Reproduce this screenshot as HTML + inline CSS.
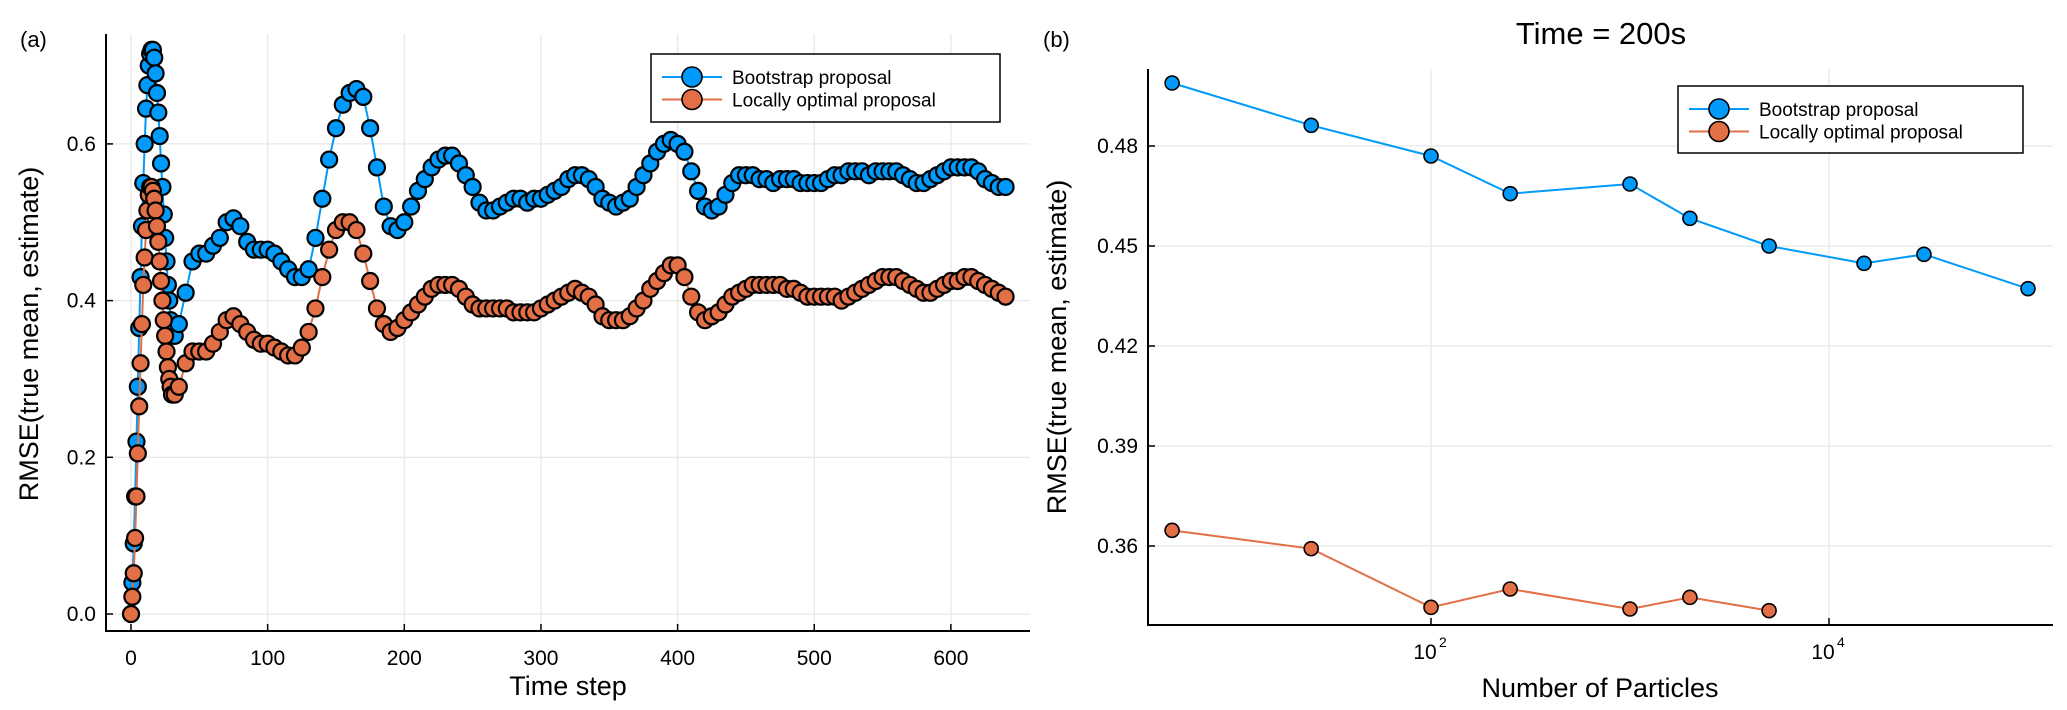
<!DOCTYPE html>
<html><head><meta charset="utf-8"><style>
html,body{margin:0;padding:0;background:#fff;}
svg{display:block;font-family:"Liberation Sans",sans-serif;}
</style></head><body>
<svg id="fig" width="2067" height="710" viewBox="0 0 2067 710" xmlns="http://www.w3.org/2000/svg">
<rect width="2067" height="710" fill="#fff"/>
<g id="pa"></g>
<g id="pb"></g>
</svg>
<script>
// ---------- Panel (a) data ----------
const timeSteps = [0,1,2,3,4,5,6,7,8,9,10,11,12,13,14,15,16,17,18,19,20,21,22,23,24,25,26,27,28,29,30,32,35,40,45,50,55,60,65,70,75,80,85,90,95,100,105,110,115,120,125,130,135,140,145,150,155,160,165,170,175,180,185,190,195,200,205,210,215,220,225,230,235,240,245,250,255,260,265,270,275,280,285,290,295,300,305,310,315,320,325,330,335,340,345,350,355,360,365,370,375,380,385,390,395,400,405,410,415,420,425,430,435,440,445,450,455,460,465,470,475,480,485,490,495,500,505,510,515,520,525,530,535,540,545,550,555,560,565,570,575,580,585,590,595,600,605,610,615,620,625,630,635,640];
const bootstrapA = [0.0,0.04,0.09,0.15,0.22,0.29,0.365,0.43,0.495,0.55,0.60,0.645,0.675,0.70,0.715,0.72,0.72,0.71,0.69,0.665,0.64,0.61,0.575,0.545,0.51,0.48,0.45,0.42,0.40,0.375,0.36,0.355,0.37,0.41,0.45,0.46,0.46,0.47,0.48,0.50,0.505,0.495,0.475,0.465,0.465,0.465,0.46,0.45,0.44,0.43,0.43,0.44,0.48,0.53,0.58,0.62,0.65,0.665,0.67,0.66,0.62,0.57,0.52,0.495,0.49,0.50,0.52,0.54,0.555,0.57,0.58,0.585,0.585,0.575,0.56,0.545,0.525,0.515,0.515,0.52,0.525,0.53,0.53,0.525,0.53,0.53,0.535,0.54,0.545,0.555,0.56,0.56,0.555,0.545,0.53,0.525,0.52,0.525,0.53,0.545,0.56,0.575,0.59,0.60,0.605,0.60,0.59,0.565,0.54,0.52,0.515,0.52,0.535,0.55,0.56,0.56,0.56,0.555,0.555,0.55,0.555,0.555,0.555,0.55,0.55,0.55,0.55,0.555,0.56,0.56,0.565,0.565,0.565,0.56,0.565,0.565,0.565,0.565,0.56,0.555,0.55,0.55,0.555,0.56,0.565,0.57,0.57,0.57,0.57,0.565,0.555,0.55,0.545,0.545];
const locallyA = [0.0,0.022,0.052,0.097,0.15,0.205,0.265,0.32,0.37,0.42,0.455,0.49,0.515,0.535,0.545,0.545,0.54,0.53,0.515,0.495,0.475,0.45,0.425,0.40,0.375,0.355,0.335,0.315,0.30,0.29,0.28,0.28,0.29,0.32,0.335,0.335,0.335,0.345,0.36,0.375,0.38,0.37,0.36,0.35,0.345,0.345,0.34,0.335,0.33,0.33,0.34,0.36,0.39,0.43,0.465,0.49,0.50,0.50,0.49,0.46,0.425,0.39,0.37,0.36,0.365,0.375,0.385,0.395,0.405,0.415,0.42,0.42,0.42,0.415,0.405,0.395,0.39,0.39,0.39,0.39,0.39,0.385,0.385,0.385,0.385,0.39,0.395,0.40,0.405,0.41,0.415,0.41,0.405,0.395,0.38,0.375,0.375,0.375,0.38,0.39,0.40,0.415,0.425,0.435,0.445,0.445,0.43,0.405,0.385,0.375,0.38,0.385,0.395,0.405,0.41,0.415,0.42,0.42,0.42,0.42,0.42,0.415,0.415,0.41,0.405,0.405,0.405,0.405,0.405,0.40,0.405,0.41,0.415,0.42,0.425,0.43,0.43,0.43,0.425,0.42,0.415,0.41,0.41,0.415,0.42,0.425,0.425,0.43,0.43,0.425,0.42,0.415,0.41,0.405];
const xTicksA = [0,100,200,300,400,500,600];
const yTicksA = [0.0,0.2,0.4,0.6];
const yTickLabelsA = ["0.0","0.2","0.4","0.6"];
// ---------- Panel (b) data ----------
const particles = [5,25,100,250,1000,2000,5000,15000,30000,100000];
const bootstrapB = [0.4989,0.4862,0.4770,0.4657,0.4686,0.4583,0.4500,0.4448,0.4475,0.4372];
const locallyB = [0.3647,0.3592,0.3416,0.3471,0.3411,0.3446,0.3406];
const yTicksB = [0.36,0.39,0.42,0.45,0.48];
const yTickLabelsB = ["0.36","0.39","0.42","0.45","0.48"];
const xTicksB = [100,10000];
const xTickExpB = ["2","4"];

const NS="http://www.w3.org/2000/svg";
function mk(parent,tag,attrs,text){const e=document.createElementNS(NS,tag);for(const k in attrs)e.setAttribute(k,attrs[k]);if(text!==undefined)e.textContent=text;parent.appendChild(e);return e;}
const BLUE="#009AFA", ORANGE="#E26F46";

// ---------- Panel (a) ----------
const pa=document.getElementById('pa');
const A={l:106,r:1030,t:34,b:631};
const xA=v=>131+(v-0)*1.3665;
const yA=v=>614-(v-0)*783.5;
xTicksA.forEach(v=>{const g=mk(pa,'line',{x1:xA(v),x2:xA(v),y1:A.t,y2:A.b,stroke:'#e8e8e8','stroke-width':1.3});

});
yTicksA.forEach(v=>{const g=mk(pa,'line',{x1:A.l,x2:A.r,y1:yA(v),y2:yA(v),stroke:'#e8e8e8','stroke-width':1.3});

});
const axA=mk(pa,'path',{d:`M${A.l},${A.t} V${A.b} H${A.r}`,fill:'none',stroke:'#000','stroke-width':2});


xTicksA.forEach(v=>{mk(pa,'line',{x1:xA(v),x2:xA(v),y1:A.b,y2:A.b-7,stroke:'#000','stroke-width':1.5});
const t=mk(pa,'text',{x:xA(v),y:A.b+34,'text-anchor':'middle','font-size':21},String(v));

});
yTicksA.forEach((v,i)=>{mk(pa,'line',{x1:A.l,x2:A.l+7,y1:yA(v),y2:yA(v),stroke:'#000','stroke-width':1.5});
const t=mk(pa,'text',{x:A.l-10,y:yA(v)+7,'text-anchor':'end','font-size':21},yTickLabelsA[i]);

});
function series(parent,xs,ys,xf,yf,color,r,sw,name){
  const pts=xs.slice(0,ys.length).map((x,i)=>xf(x)+','+yf(ys[i])).join(' ');
  const ln=mk(parent,'polyline',{points:pts,fill:'none',stroke:color,'stroke-width':2});
  
  
  ys.forEach((y,i)=>{const c=mk(parent,'circle',{cx:xf(xs[i]),cy:yf(y),r:r,fill:color,stroke:'#000','stroke-width':sw});
  
  });
}
series(pa,timeSteps,bootstrapA,xA,yA,BLUE,8,2.2,'bootstrap-a');
series(pa,timeSteps,locallyA,xA,yA,ORANGE,8,2.2,'locally-optimal-a');
function legend(parent,x,y,w,h,name){
  const g=mk(parent,'g',{});
  
  
  mk(g,'rect',{x:x,y:y,width:w,height:h,fill:'#fff',stroke:'#000','stroke-width':1.5});
  [[BLUE,'Bootstrap proposal'],[ORANGE,'Locally optimal proposal']].forEach((e,i)=>{
    const cy=y+23+i*22.5;
    mk(g,'line',{x1:x+11,x2:x+71,y1:cy,y2:cy,stroke:e[0],'stroke-width':2});
    mk(g,'circle',{cx:x+41,cy:cy,r:10,fill:e[0],stroke:'#000','stroke-width':1.6});
    const t=mk(g,'text',{x:x+81,y:cy+7,'font-size':19},e[1]);
    
    
  });
}
legend(pa,651,54,349,68,'legend-a');
const la=mk(pa,'text',{x:20,y:47,'font-size':22},'(a)');


const yla=mk(pa,'text',{x:0,y:0,'font-size':27,'text-anchor':'middle',transform:'translate(38,334) rotate(-90)'},'RMSE(true mean, estimate)');


const xla=mk(pa,'text',{x:568,y:695,'font-size':27,'text-anchor':'middle'},'Time step');



// ---------- Panel (b) ----------
const pb=document.getElementById('pb');
const B={l:1148,r:2053,t:69,b:625};
const xB=v=>1431+(Math.log10(v)-2)*199;
const yB=v=>546-(v-0.36)*(100/0.03);
xTicksB.forEach(v=>{const g=mk(pb,'line',{x1:xB(v),x2:xB(v),y1:B.t,y2:B.b,stroke:'#e8e8e8','stroke-width':1.3});

});
yTicksB.forEach(v=>{const g=mk(pb,'line',{x1:B.l,x2:B.r,y1:yB(v),y2:yB(v),stroke:'#e8e8e8','stroke-width':1.3});

});
const axB=mk(pb,'path',{d:`M${B.l},${B.t} V${B.b} H${B.r}`,fill:'none',stroke:'#000','stroke-width':2});


xTicksB.forEach((v,i)=>{mk(pb,'line',{x1:xB(v),x2:xB(v),y1:B.b,y2:B.b-7,stroke:'#000','stroke-width':1.5});
const t=mk(pb,'text',{x:xB(v)-6,y:B.b+34,'text-anchor':'middle','font-size':21},'10');


mk(pb,'text',{x:xB(v)+8,y:B.b+22,'font-size':14},xTickExpB[i]);});
yTicksB.forEach((v,i)=>{mk(pb,'line',{x1:B.l,x2:B.l+7,y1:yB(v),y2:yB(v),stroke:'#000','stroke-width':1.5});
const t=mk(pb,'text',{x:B.l-10,y:yB(v)+7,'text-anchor':'end','font-size':21},yTickLabelsB[i]);

});
series(pb,particles,bootstrapB,xB,yB,BLUE,7,1.6,'bootstrap-b');
series(pb,particles,locallyB,xB,yB,ORANGE,7,1.6,'locally-optimal-b');
legend(pb,1678,86,345,67,'legend-b');
const lb=mk(pb,'text',{x:1043,y:47,'font-size':22},'(b)');


const tt=mk(pb,'text',{x:1601,y:44,'font-size':31,'text-anchor':'middle'},'Time = 200s');


const ylb=mk(pb,'text',{x:0,y:0,'font-size':27,'text-anchor':'middle',transform:'translate(1066,347) rotate(-90)'},'RMSE(true mean, estimate)');


const xlb=mk(pb,'text',{x:1600,y:697,'font-size':27,'text-anchor':'middle'},'Number of Particles');


</script>
</body></html>
